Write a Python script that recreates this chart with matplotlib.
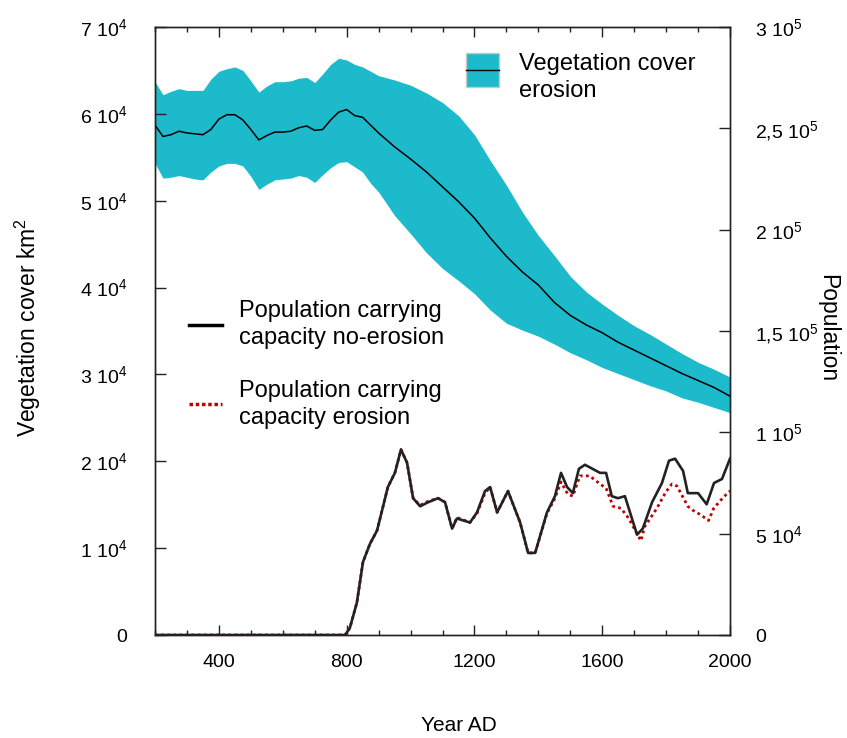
import matplotlib
matplotlib.use('Agg')
import matplotlib.pyplot as plt
from matplotlib.patches import Patch, Rectangle
from matplotlib.lines import Line2D
from matplotlib.legend_handler import HandlerBase
from matplotlib.ticker import FixedLocator, FixedFormatter, MultipleLocator
import numpy as np

plt.rcParams['font.family'] = ['Liberation Sans', 'DejaVu Sans']
plt.rcParams['mathtext.fontset'] = 'custom'
plt.rcParams['mathtext.rm'] = 'Liberation Sans'

# ---------------- data ----------------
veg_years = [200, 225, 250, 275, 300, 325, 350, 375, 400, 425, 450, 475, 500, 525, 550,
             575, 600, 625, 650, 675, 700, 725, 750, 775, 800, 825, 850, 875, 900, 950,
             1000, 1050, 1100, 1150, 1200, 1250, 1300, 1350, 1400, 1450, 1500, 1550, 1600,
             1650, 1700, 1750, 1800, 1850, 1900, 1950, 2000]
# vegetation cover (units of 1e4 km2)
veg_center = [5.87, 5.74, 5.76, 5.80, 5.78, 5.77, 5.76, 5.82, 5.94, 5.99, 5.99, 5.93, 5.82, 5.70, 5.75,
              5.79, 5.79, 5.80, 5.84, 5.86, 5.81, 5.82, 5.93, 6.02, 6.05, 5.98, 5.96, 5.87, 5.78, 5.62,
              5.48, 5.33, 5.16, 4.99, 4.80, 4.57, 4.36, 4.18, 4.03, 3.83, 3.68, 3.57, 3.48,
              3.37, 3.28, 3.19, 3.10, 3.01, 2.93, 2.85, 2.75]
veg_upper = [6.37, 6.22, 6.26, 6.29, 6.27, 6.27, 6.27, 6.40, 6.49, 6.52, 6.54, 6.50, 6.38, 6.25, 6.32,
             6.37, 6.37, 6.38, 6.41, 6.42, 6.36, 6.46, 6.57, 6.64, 6.62, 6.57, 6.54, 6.49, 6.44, 6.39,
             6.33, 6.24, 6.13, 5.98, 5.76, 5.46, 5.18, 4.87, 4.60, 4.37, 4.13, 3.95, 3.81,
             3.68, 3.56, 3.46, 3.35, 3.24, 3.14, 3.06, 2.97]
veg_lower = [5.43, 5.26, 5.27, 5.29, 5.27, 5.25, 5.24, 5.33, 5.40, 5.43, 5.43, 5.40, 5.28, 5.13, 5.19,
             5.24, 5.25, 5.26, 5.29, 5.27, 5.21, 5.30, 5.38, 5.44, 5.45, 5.39, 5.33, 5.20, 5.10, 4.83,
             4.62, 4.40, 4.22, 4.08, 3.93, 3.74, 3.59, 3.51, 3.44, 3.35, 3.25, 3.17, 3.08,
             3.01, 2.94, 2.87, 2.81, 2.73, 2.68, 2.62, 2.56]

# population carrying capacity (units of 1e4 people)
pop_years = [200, 795, 810, 832, 851, 873, 895, 914, 929, 951, 970, 989, 1008, 1030, 1055, 1086,
             1108, 1130, 1145, 1186, 1208, 1233, 1249, 1271, 1305, 1343, 1368, 1390, 1427, 1452,
             1471, 1490, 1508, 1527, 1546, 1593, 1612, 1630, 1649, 1671, 1709, 1727, 1756, 1787,
             1809, 1828, 1853, 1868, 1900, 1927, 1950, 1975, 2000]
pop_noerosion = [0, 0, 0.35, 1.6, 3.6, 4.5, 5.15, 6.35, 7.3, 8.0, 9.15, 8.5, 6.75, 6.35, 6.55, 6.75,
                 6.55, 5.25, 5.75, 5.55, 6.05, 7.1, 7.3, 6.05, 7.1, 5.55, 4.05, 4.05, 6.05, 6.85,
                 8.0, 7.3, 7.0, 8.2, 8.4, 8.0, 8.0, 6.85, 6.75, 6.85, 4.95, 5.25, 6.55, 7.5,
                 8.6, 8.7, 8.1, 7.0, 7.0, 6.45, 7.5, 7.7, 8.7]

pop_years_e = [200, 795, 810, 832, 851, 873, 895, 914, 929, 951, 970, 989, 1008, 1030, 1055, 1086,
               1108, 1130, 1145, 1186, 1208, 1233, 1249, 1271, 1305, 1343, 1368, 1390, 1427, 1452,
               1471, 1492, 1508, 1530, 1561, 1593, 1612, 1634, 1659, 1683, 1721, 1733, 1771, 1799,
               1818, 1834, 1868, 1884, 1906, 1933, 1949, 1971, 1995, 2000]
pop_erosion = [0, 0, 0.35, 1.6, 3.6, 4.5, 5.15, 6.35, 7.3, 8.0, 9.15, 8.5, 6.75, 6.4, 6.6, 6.75,
               6.55, 5.25, 5.8, 5.55, 6.0, 7.0, 7.3, 6.05, 7.1, 5.55, 4.05, 4.05, 6.0, 6.75,
               7.55, 6.95, 6.85, 7.85, 7.85, 7.45, 7.25, 6.35, 6.25, 5.75, 4.65, 5.35, 6.25, 7.05,
               7.45, 7.35, 6.35, 6.15, 5.95, 5.65, 6.25, 6.65, 7.05, 7.1]

left_ticks = [0, 1, 2, 3, 4, 5, 6, 7]
left_labels = ['0', r'1 $\mathregular{10^{4}}$', r'2 $\mathregular{10^{4}}$', r'3 $\mathregular{10^{4}}$',
               r'4 $\mathregular{10^{4}}$', r'5 $\mathregular{10^{4}}$', r'6 $\mathregular{10^{4}}$',
               r'7 $\mathregular{10^{4}}$']
right_ticks = [0, 5, 10, 15, 20, 25, 30]
right_labels = ['0', r'5 $\mathregular{10^{4}}$', r'1 $\mathregular{10^{5}}$', r'1,5 $\mathregular{10^{5}}$',
                r'2 $\mathregular{10^{5}}$', r'2,5 $\mathregular{10^{5}}$', r'3 $\mathregular{10^{5}}$']
x_ticks = [400, 800, 1200, 1600, 2000]
x_labels = ['400', '800', '1200', '1600', '2000']

CYAN = '#1cbaca'
RED = '#c00000'
INK = '#222222'


class BandHandler(HandlerBase):
    """Cyan box with a thin black line, raised to sit beside the first text line."""
    def create_artists(self, legend, orig_handle, xdescent, ydescent, width, height,
                       fontsize, trans):
        y0 = -0.5
        h = 24.0
        rect = Rectangle((-xdescent, y0), width, h, facecolor=CYAN,
                         edgecolor='#c8c8c8', lw=1.0, transform=trans)
        line = Line2D([-xdescent, -xdescent + width], [y0 + h / 2] * 2,
                      color='black', lw=1.0, transform=trans)
        return [rect, line]


# ---------------- figure ----------------
fig = plt.figure(figsize=(8.47, 7.38), dpi=100)
ax = fig.add_axes([155/847, 1 - 635/738, 575/847, 608/738])
ax2 = ax.twinx()

ax.fill_between(veg_years, veg_lower, veg_upper, color=CYAN, lw=0, zorder=1)
ax.plot(veg_years, veg_center, color='black', lw=1.1, zorder=2)

ax2.plot(pop_years_e, pop_erosion, color=RED, lw=2.0, ls=(0, (1, 1.2)), zorder=3)
ax2.plot(pop_years, pop_noerosion, color=INK, lw=1.9, zorder=4)

ax.set_xlim(200, 2000)
ax.set_ylim(0, 7)
ax2.set_ylim(0, 30)

fs = 14
ax.xaxis.set_major_locator(FixedLocator(x_ticks))
ax.xaxis.set_major_formatter(FixedFormatter(x_labels))
ax.xaxis.set_minor_locator(MultipleLocator(100))
ax.yaxis.set_major_locator(FixedLocator(left_ticks))
ax.yaxis.set_major_formatter(FixedFormatter(left_labels))
ax2.yaxis.set_major_locator(FixedLocator(right_ticks))
ax2.yaxis.set_major_formatter(FixedFormatter(right_labels))

ax.tick_params(axis='x', which='major', direction='in', length=7, width=1, top=True,
               labelsize=fs, pad=14, color=INK)
ax.tick_params(axis='x', which='minor', direction='in', length=3.5, width=1, top=True, color=INK)
ax.tick_params(axis='y', which='major', direction='in', length=8, width=1, right=False,
               labelsize=fs, pad=20, color=INK)
ax2.tick_params(axis='y', which='major', direction='in', length=8, width=1,
                labelsize=fs, pad=18, color=INK)

for a in (ax, ax2):
    for s in a.spines.values():
        s.set_color(INK)
        s.set_linewidth(1.0)

ax.set_xlabel('Year AD', fontsize=15)
ax.xaxis.set_label_coords(0.529, -0.133)
ax.set_ylabel(r'Vegetation cover km$^\mathregular{2}$', fontsize=16.5)
ax.yaxis.set_label_coords(-0.195, 0.505)
ax2.set_ylabel('Population', fontsize=16.5, rotation=270, va='center')
ax2.yaxis.set_label_coords(1.17, 0.505)

# legends
veg_handle = Patch(facecolor=CYAN)
leg1 = ax2.legend([veg_handle], ['Vegetation cover\nerosion'],
                  handler_map={Patch: BandHandler()},
                  loc='upper left', bbox_to_anchor=(466/847, 1 - 53/738),
                  bbox_transform=fig.transFigure, frameon=False, fontsize=17,
                  handlelength=1.4, handleheight=1.45, handletextpad=0.85,
                  borderpad=0, borderaxespad=0)
for t in leg1.get_texts():
    t.set_linespacing(1.3)
ax2.add_artist(leg1)

pop_handles = [Line2D([], [], color='black', lw=2.5),
               Line2D([], [], color=RED, lw=2.5, ls=(0, (1, 0.8)))]
leg2 = ax2.legend(pop_handles, ['Population carrying\ncapacity no-erosion',
                                'Population carrying\ncapacity erosion'],
                  loc='upper left', bbox_to_anchor=(189/847, 1 - 300/738),
                  bbox_transform=fig.transFigure, frameon=False, fontsize=17,
                  handlelength=1.4, handletextpad=0.7, labelspacing=1.29,
                  borderpad=0, borderaxespad=0)
for t in leg2.get_texts():
    t.set_linespacing(1.3)

fig.savefig('out.png', dpi=100)
